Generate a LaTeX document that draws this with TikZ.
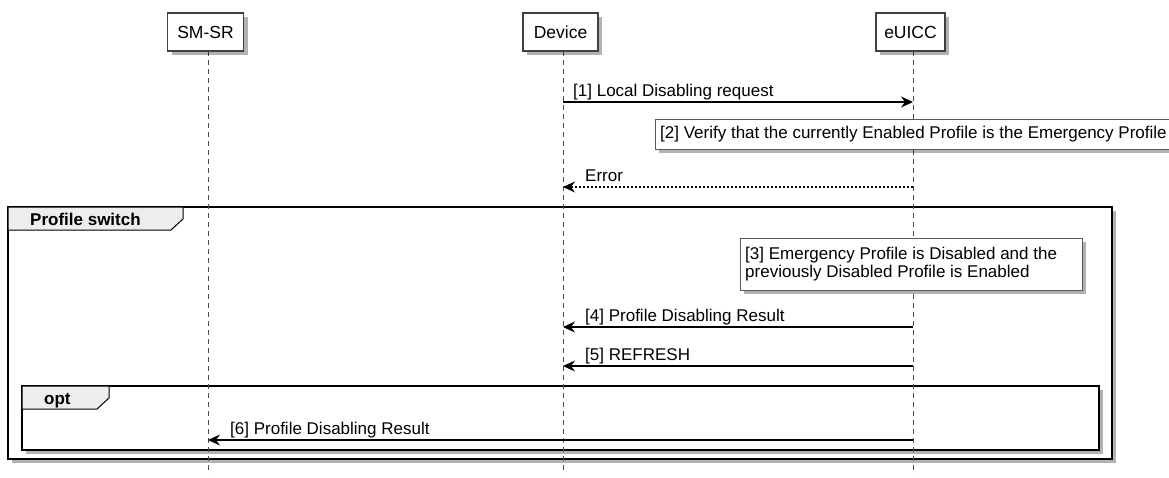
\documentclass[tikz,border=0pt]{standalone}
\usepackage{fontspec}
\setmainfont{Liberation Sans}
\usetikzlibrary{arrows.meta,shadows}
\tikzset{
  shad/.style={drop shadow={shadow xshift=4pt,shadow yshift=-4pt,opacity=0.3,fill=black}},
  actor/.style={draw=black!75,line width=1.2pt,fill=white,minimum height=38pt,inner sep=0pt,font=\fontsize{17.5}{19}\selectfont,shad},
  lifeline/.style={draw=black!70,line width=0.9pt,dash pattern=on 5pt off 4pt},
  msg/.style={draw=black,line width=1.1pt,-{Stealth[length=12pt,width=11pt,inset=4pt]}},
  reply/.style={msg,dash pattern=on 2pt off 2pt},
  lbl/.style={font=\fontsize{17}{19}\selectfont,inner sep=0pt,anchor=base west},
  notebox/.style={draw=black!65,line width=1pt,fill=white,shad},
  notetext/.style={font=\fontsize{17}{18}\selectfont,inner sep=0pt,anchor=west,align=left},
  frame/.style={draw=black,line width=2.5pt,fill=white,shad},
  tab/.style={draw=black,line width=1pt,fill=black!7},
  tabtext/.style={font=\bfseries\fontsize{17}{19}\selectfont,inner sep=0pt,anchor=base west}
}
\begin{document}
\begin{tikzpicture}[x=1pt,y=-1pt]
\useasboundingbox (0,0) rectangle (1169,477);
% frames
\path[frame] (8,207) rectangle (1112,459);
\draw[tab] (8,207) -- (183,207) -- (183,219) -- (171,230) -- (8,230) -- cycle;
\node[tabtext] (fps) at (30,225) {Profile switch};
\path[frame] (22,386) rectangle (1099,450);
\draw[tab] (22,386) -- (109,386) -- (109,398) -- (97,409) -- (22,409) -- cycle;
\node[tabtext] (fopt) at (44,404) {opt};
% lifelines
\coordinate (sTop) at (208,51); \coordinate (sBot) at (208,474);
\coordinate (dTop) at (563,51); \coordinate (dBot) at (563,474);
\coordinate (eTop) at (913,51); \coordinate (eBot) at (913,474);
\draw[lifeline] (sTop) -- (sBot);
\draw[lifeline] (dTop) -- (dBot);
\draw[lifeline] (eTop) -- (eBot);
% participants
\node[actor,minimum width=76pt] (smsr) at (205.5,32) {SM-SR};
\node[actor,minimum width=75pt] (dev) at (560.5,32) {Device};
\node[actor,minimum width=69pt] (euicc) at (910.5,32) {eUICC};
% message end points
\coordinate (d1) at (563,102); \coordinate (e1) at (913,102);
\coordinate (d2) at (563,187); \coordinate (e2) at (913,187);
\coordinate (d4) at (563,327); \coordinate (e4) at (913,327);
\coordinate (d5) at (563,366); \coordinate (e5) at (913,366);
\coordinate (s6) at (208,440); \coordinate (e6) at (913,440);
% messages
\draw[msg] (d1) -- (e1);
\node[lbl] (l1) at (573,96) {[1] Local Disabling request};
\draw[reply] (e2) -- (d2);
\node[lbl] (l2) at (585,181) {Error};
\draw[msg] (e4) -- (d4);
\node[lbl] (l4) at (585,321) {[4] Profile Disabling Result};
\draw[msg] (e5) -- (d5);
\node[lbl] (l5) at (585,360) {[5] REFRESH};
\draw[msg] (e6) -- (s6);
\node[lbl] (l6) at (230,434) {[6] Profile Disabling Result};
% notes
\path[notebox] (655,119) rectangle (1185,149);
\node[notetext] (n2) at (660,134) {[2] Verify that the currently Enabled Profile is the Emergency Profile};
\path[notebox] (740,238) rectangle (1082,290);
\node[notetext] (n3) at (745,264) {[3] Emergency Profile is Disabled and the\\previously Disabled Profile is Enabled};
\end{tikzpicture}
\end{document}
